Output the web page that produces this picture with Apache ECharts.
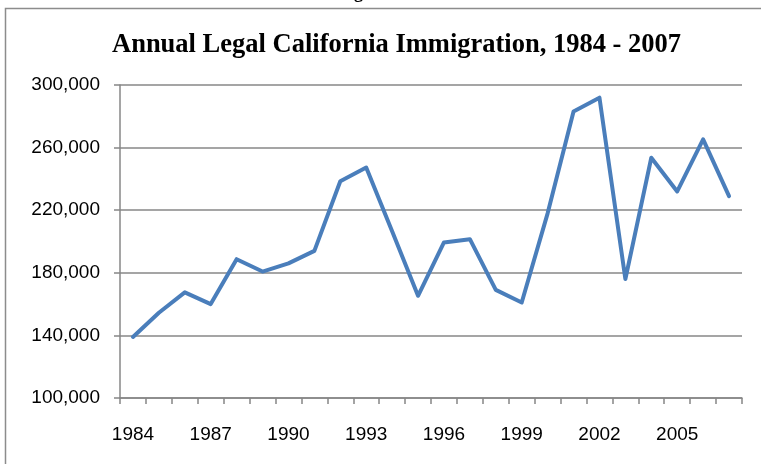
<!DOCTYPE html>
<html>
<head>
<meta charset="utf-8">
<script src="https://cdn.jsdelivr.net/npm/echarts@6/dist/echarts.min.js"></script>
<style>
  html, body { margin: 0; padding: 0; background: #fff; }
  #chart { width: 761px; height: 464px; }
</style>
</head>
<body>
<div id="chart"></div>
<script>
// years on the x axis
const years = [
  "1984", "1985", "1986", "1987", "1988", "1989", "1990", "1991",
  "1992", "1993", "1994", "1995", "1996", "1997", "1998", "1999",
  "2000", "2001", "2002", "2003", "2004", "2005", "2006", "2007",
]
// legal immigrants per year
const immigrants = [
  139000, 154500, 167500, 160000, 188700, 180800, 186000, 194000,
  238500, 247300, 206600, 165300, 199400, 201500, 169100, 161000,
  218000, 283000, 291900, 176000, 253500, 232000, 265300, 229000,
]
const yMin = 100000
const yMax = 300000
const yStep = 40000

const chart = echarts.init(document.getElementById("chart"))

const gray = "#878787"

const option = {
  animation: false,
  backgroundColor: "#fff",
  title: {
    text: "Annual Legal California Immigration, 1984 - 2007",
    left: 107,
    top: 27,
    textStyle: {
      fontFamily: "Liberation Serif",
      fontWeight: "bold",
      fontSize: 26.5,
      color: "#000",
    },
  },
  graphic: [
    // outer chart frame
    {
      type: "rect",
      shape: { x: 5.5, y: 8.5, width: 800, height: 500 },
      style: { fill: "none", stroke: "#8c8c8c", lineWidth: 1.5 },
      silent: true,
    },
    // clipped caption above the frame
    {
      type: "text",
      left: 338,
      top: -16,
      style: {
        text: "Figure 1",
        font: "bold 18px 'Liberation Serif'",
        fill: "#000",
      },
      silent: true,
    },
  ],
  grid: {
    left: 120,
    right: 19,
    top: 85,
    bottom: 66,
  },
  xAxis: {
    type: "category",
    data: years,
    boundaryGap: true,
    axisLine: { lineStyle: { color: gray, width: 1.5 } },
    axisTick: {
      show: true,
      interval: 0,
      length: 6,
      lineStyle: { color: gray, width: 1.5 },
    },
    axisLabel: {
      interval: 2,
      margin: 27,
      color: "#000",
      fontFamily: "Liberation Sans",
      fontSize: 19,
    },
    splitLine: { show: false },
  },
  yAxis: {
    type: "value",
    min: yMin,
    max: yMax,
    interval: yStep,
    axisLine: { show: true, lineStyle: { color: gray, width: 1.5 } },
    axisTick: { show: true, length: 6, lineStyle: { color: gray, width: 1.5 } },
    axisLabel: {
      margin: 20,
      color: "#000",
      fontFamily: "Liberation Sans",
      fontSize: 19,
      formatter: (v) => v.toLocaleString("en-US"),
    },
    splitLine: { lineStyle: { color: gray, width: 1.5 } },
  },
  series: [
    {
      type: "line",
      name: "Immigrants",
      data: immigrants,
      symbol: "none",
      lineStyle: { color: "#4a7ebb", width: 4, cap: "round", join: "round" },
    },
  ],
}

chart.setOption(option)
</script>
</body>
</html>
